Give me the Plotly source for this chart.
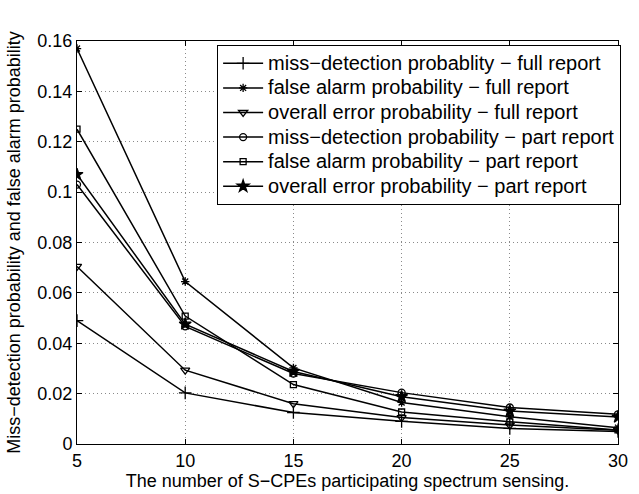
import plotly.graph_objects as go

x_vals = [5, 10, 15, 20, 25, 30]

miss_full = [0.049, 0.0203, 0.0125, 0.0090, 0.0062, 0.0050]
false_full = [0.157, 0.0645, 0.0302, 0.0165, 0.0108, 0.0065]
overall_full = [0.0705, 0.0293, 0.0160, 0.0105, 0.0075, 0.0055]
miss_part = [0.103, 0.0467, 0.0280, 0.0204, 0.0145, 0.0118]
false_part = [0.125, 0.0508, 0.0236, 0.0127, 0.0088, 0.0056]
overall_part = [0.107, 0.0476, 0.0288, 0.0188, 0.0131, 0.0107]

names = [
    "miss−detection probablity − full report",
    "false alarm probability − full report",
    "overall error probability − full report",
    "miss−detection probability − part report",
    "false alarm probability − part report",
    "overall error probability − part report",
]
series = [miss_full, false_full, overall_full, miss_part, false_part, overall_part]
symbols = ["cross-thin-open", "asterisk-open", "triangle-down-open", "circle-open", "square-open", "star"]
sizes = [9, 7, 8, 7, 6, 9]

FONT = "Liberation Sans, Arial, sans-serif"

fig = go.Figure()
for name, ys, sym, sz in zip(names, series, symbols, sizes):
    fig.add_trace(go.Scatter(
        x=x_vals, y=ys, mode="lines+markers",
        name='<span style="font-size:20px">' + name + '</span>',
        line=dict(color="black", width=1.5),
        marker=dict(symbol=sym, size=sz, color="black",
                    line=dict(color="black", width=1.3)),
    ))

axis_common = dict(
    showline=True, linecolor="black", linewidth=1, mirror="allticks",
    ticks="inside", ticklen=5, tickcolor="black",
    showgrid=True, gridcolor="#8a8a8a", griddash="1px,3px", gridwidth=1,
    zeroline=False, tickfont=dict(family=FONT, size=18, color="black"),
)

fig.update_xaxes(range=[5, 30], tickvals=[5, 10, 15, 20, 25, 30],
                 title=dict(text="The number of S−CPEs participating spectrum sensing.",
                            font=dict(family=FONT, size=18, color="black"), standoff=0),
                 **axis_common)
fig.update_yaxes(range=[0, 0.16], tickvals=[0, 0.02, 0.04, 0.06, 0.08, 0.1, 0.12, 0.14, 0.16],
                 title=dict(text="Miss−detection probability and false alarm probability",
                            font=dict(family=FONT, size=18, color="black"), standoff=12),
                 **axis_common)

fig.update_layout(
    width=639, height=494,
    margin=dict(l=77, r=11, t=41, b=50),
    paper_bgcolor="white", plot_bgcolor="white",
    font=dict(family=FONT, color="black"),
    legend=dict(x=0.259, y=0.99, xanchor="left", yanchor="top",
                bgcolor="white", bordercolor="black", borderwidth=1,
                font=dict(family=FONT, size=16.6, color="black"),
                tracegroupgap=0, itemwidth=40),
    showlegend=True,
)

fig.write_html("out.html", post_script="document.body.style.margin='0';",
               config={"displayModeBar": False})
